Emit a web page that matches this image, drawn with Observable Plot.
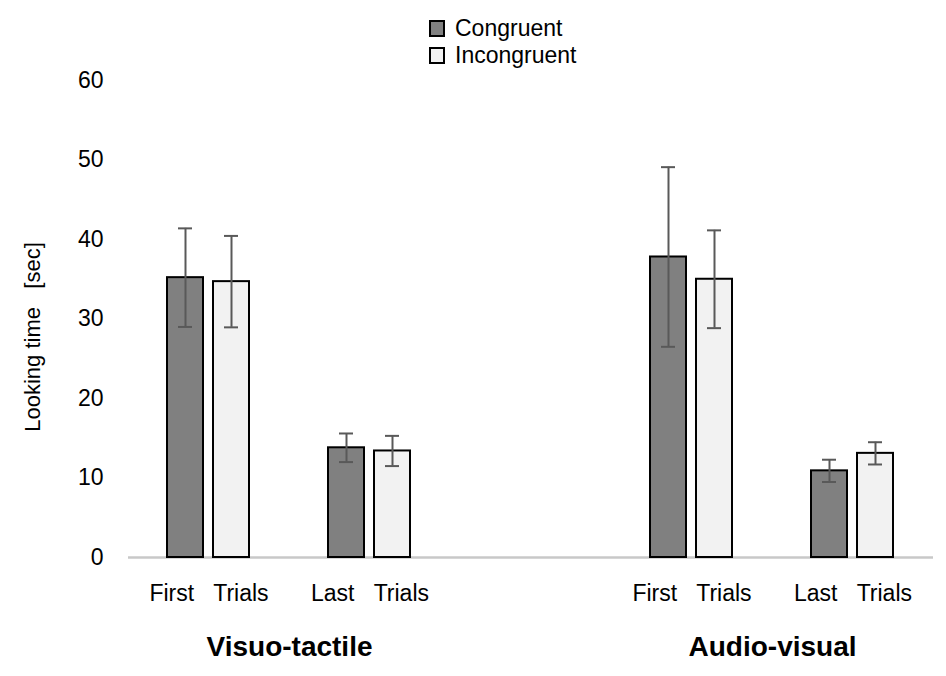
<!DOCTYPE html>
<html><head><meta charset="utf-8">
<script src="https://cdn.jsdelivr.net/npm/d3@7"></script>
<script src="https://cdn.jsdelivr.net/npm/@observablehq/plot@0.6"></script>
<style>
body{margin:0;background:#fff;font-family:"Liberation Sans",Arial,sans-serif;}
#legend{position:relative;height:68px;width:946px;}
.row{position:absolute;left:429px;display:flex;align-items:center;font-size:23px;color:#000;height:29px;line-height:29px;}
.sw{width:12px;height:13px;border:2px solid #000;margin-right:10px;box-sizing:content-box;}
</style></head><body>
<div id="legend"></div>
<div id="chart"></div>
<script>
const modalities = ["Visuo-tactile", "Audio-visual"];
const phases = ["First", "Last"];
const conditions = ["Congruent", "Incongruent"];
// order: Visuo-tactile First, Visuo-tactile Last, Audio-visual First, Audio-visual Last
const congruentMeans = [35.2, 13.8, 37.8, 10.9];
const congruentErrors = [6.2, 1.8, 11.3, 1.4];
const incongruentMeans = [34.7, 13.4, 35.0, 13.1];
const incongruentErrors = [5.75, 1.9, 6.15, 1.4];
const conditionColors = ["#808080", "#f2f2f2"];
const yTicks = [0, 10, 20, 30, 40, 50, 60];
const yLabel = "Looking time\u00a0\u00a0\u00a0[sec]";
const trialsWord = "Trials";

// build slot keys with a spacer between modalities
const slotKeys = [];
modalities.forEach((m, i) => {
  if (i > 0) slotKeys.push("spacer");
  phases.forEach(p => slotKeys.push(m + "|" + p));
});

const rows = [];
modalities.forEach((m, i) => {
  phases.forEach((p, j) => {
    const k = i * phases.length + j;
    const slot = m + "|" + p;
    rows.push({slot, condition: conditions[0], mean: congruentMeans[k], lo: congruentMeans[k] - congruentErrors[k], hi: congruentMeans[k] + congruentErrors[k]});
    rows.push({slot, condition: conditions[1], mean: incongruentMeans[k], lo: incongruentMeans[k] - incongruentErrors[k], hi: incongruentMeans[k] + incongruentErrors[k]});
  });
});
const baseRows = slotKeys.map(s => ({slot: s, base: 0}));
const groupRows = modalities.map(m => ({slot: m + "|" + phases[1], label: m}));
const yLabelRows = [{slot: slotKeys[0], label: yLabel}];

// legend
const legend = document.getElementById("legend");
conditions.forEach((c, i) => {
  const row = document.createElement("div");
  row.className = "row";
  row.style.top = (13.5 + i * 27) + "px";
  const sw = document.createElement("span");
  sw.className = "sw";
  sw.style.background = conditionColors[i];
  const t = document.createElement("span");
  t.textContent = c;
  row.appendChild(sw); row.appendChild(t);
  legend.appendChild(row);
});

const errStroke = "#595959";
const chart = Plot.plot({
  width: 946, height: 608,
  marginLeft: 127, marginRight: 13, marginTop: 12, marginBottom: 119,
  style: {fontFamily: "Liberation Sans, Arial, sans-serif", fontSize: "23px", color: "#000", background: "#fff"},
  fx: {domain: slotKeys, padding: 0, axis: null},
  x: {domain: conditions, paddingInner: 0.213, paddingOuter: 0.82, axis: null},
  y: {domain: [0, 60], axis: null},
  color: {domain: conditions, range: conditionColors},
  marks: [
    Plot.ruleY(baseRows, {fx: "slot", y: "base", stroke: "#c8c8c8", strokeWidth: 2.5}),
    Plot.barY(rows, {fx: "slot", x: "condition", y: "mean", fill: "condition", stroke: "#000", strokeWidth: 2}),
    Plot.ruleX(rows, {fx: "slot", x: "condition", y1: "lo", y2: "hi", stroke: errStroke, strokeWidth: 2}),
    Plot.tickY(rows, {fx: "slot", x: "condition", y: "lo", stroke: errStroke, strokeWidth: 2, inset: 11}),
    Plot.tickY(rows, {fx: "slot", x: "condition", y: "hi", stroke: errStroke, strokeWidth: 2, inset: 11}),
    Plot.axisY({ticks: yTicks, tickSize: 0, tickPadding: 25, label: null, fontSize: 23}),
    Plot.axisFx({anchor: "bottom", tickSize: 0, tickPadding: 27, label: null, fontSize: 23,
      tickFormat: d => d === "spacer" ? "" : d.split("|")[1] + "\u00a0\u00a0\u00a0" + trialsWord}),
    Plot.text(groupRows, {fx: "slot", text: "label", frameAnchor: "bottom-left", textAnchor: "middle", lineAnchor: "middle", dy: 90, fontWeight: "bold", fontSize: 28}),
    Plot.text(yLabelRows, {fx: "slot", text: "label", frameAnchor: "left", rotate: -90, textAnchor: "middle", lineAnchor: "middle", dx: -96, dy: 18, fontSize: 22})
  ]
});
document.getElementById("chart").appendChild(chart);
</script>
</body></html>
